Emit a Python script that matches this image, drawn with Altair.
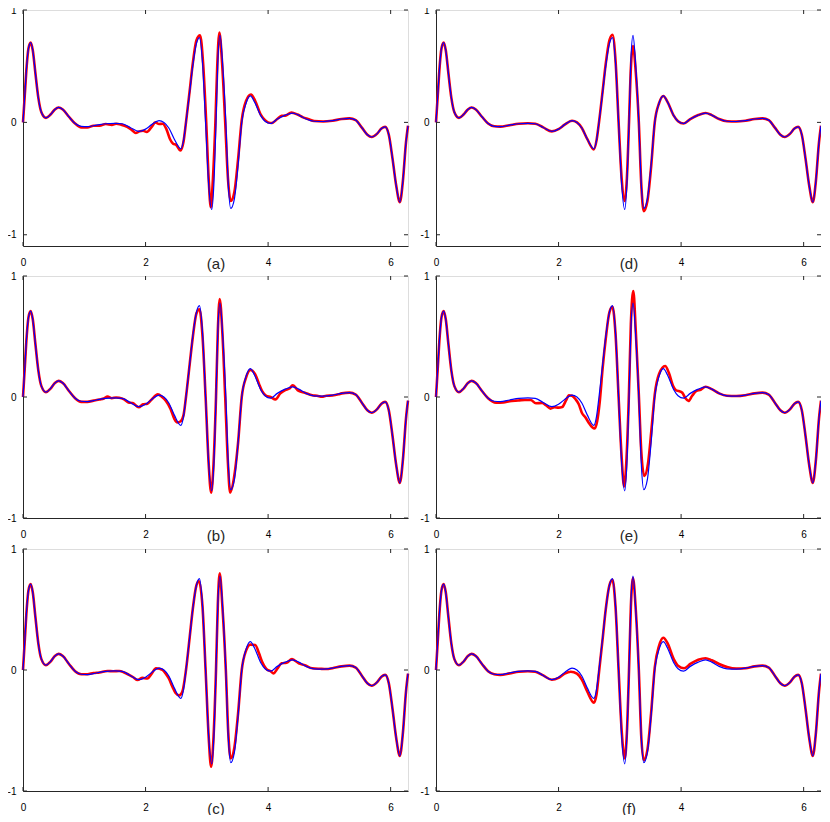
import altair as alt
import pandas as pd

# ---------------- data ----------------
X_TICKS = [0, 2, 4, 6]
Y_TICKS = [-1, 0, 1]
LABELS = ["(a)", "(b)", "(c)", "(d)", "(e)", "(f)"]

HEAD_X = [0.00, 0.03, 0.06, 0.09, 0.125, 0.16, 0.20, 0.25, 0.30, 0.375, 0.45, 0.52, 0.58, 0.65, 0.75, 0.85]
HEAD_Y = [0.00, 0.25, 0.50, 0.66, 0.71, 0.64, 0.45, 0.22, 0.09, 0.04, 0.07, 0.115, 0.133, 0.115, 0.05, -0.01]

TAIL_X = [5.20, 5.33, 5.43, 5.53, 5.62, 5.69, 5.78, 5.85, 5.91, 5.97, 6.03, 6.09, 6.15, 6.20, 6.25, 6.283]
TAIL_Y = [0.03, 0.036, 0.02, -0.047, -0.11, -0.13, -0.10, -0.055, -0.04, -0.11, -0.32, -0.56, -0.71, -0.52, -0.18, -0.03]

BLUE_MID_X = [0.95, 1.05, 1.20, 1.35, 1.50, 1.62, 1.75, 1.89, 2.00, 2.10, 2.22, 2.30, 2.38, 2.47, 2.575,
              2.62, 2.66, 2.72, 2.77, 2.83, 2.88, 2.93, 2.98, 3.03, 3.08, 3.115, 3.15, 3.18, 3.215, 3.26,
              3.31, 3.35, 3.39, 3.45, 3.51, 3.57, 3.64, 3.71, 3.78, 3.88, 3.95, 4.04, 4.15, 4.28, 4.40,
              4.50, 4.62, 4.75, 4.90, 5.05]
BLUE_MID_Y = [-0.035, -0.038, -0.025, -0.012, -0.008, -0.012, -0.045, -0.08, -0.06, -0.02, 0.015, 0.0, -0.05, -0.15, -0.235,
              -0.16, 0.00, 0.27, 0.50, 0.70, 0.755, 0.53, 0.00, -0.55, -0.775, -0.55, 0.00, 0.55, 0.775, 0.50,
              0.00, -0.55, -0.765, -0.68, -0.38, 0.00, 0.17, 0.235, 0.18, 0.06, 0.01, -0.01, 0.03, 0.065, 0.083,
              0.065, 0.03, 0.01, 0.008, 0.015]

RED_A_MID_X = [0.95, 1.05, 1.15, 1.25, 1.35, 1.45, 1.52, 1.60, 1.70, 1.78, 1.84, 1.90, 1.96, 2.02, 2.10,
               2.16, 2.22, 2.28, 2.34, 2.40, 2.45, 2.50, 2.57, 2.62, 2.66, 2.72, 2.77, 2.83, 2.89, 2.94,
               2.99, 3.03, 3.065, 3.10, 3.14, 3.17, 3.205, 3.25, 3.30, 3.345, 3.39, 3.45, 3.51, 3.57, 3.64,
               3.72, 3.79, 3.88, 3.95, 4.00, 4.06, 4.15, 4.22, 4.28, 4.38, 4.48, 4.57, 4.65, 4.75, 4.90, 5.05]
RED_A_MID_Y = [-0.045, -0.045, -0.03, -0.03, -0.015, -0.022, -0.012, -0.02, -0.04, -0.07, -0.095, -0.08, -0.075, -0.085, -0.04,
               0.0, -0.015, -0.012, -0.06, -0.15, -0.19, -0.20, -0.25, -0.17, 0.00, 0.28, 0.52, 0.73, 0.775, 0.52,
               0.00, -0.50, -0.755, -0.50, 0.00, 0.50, 0.80, 0.52, 0.00, -0.50, -0.70, -0.62, -0.33, 0.02, 0.19,
               0.248, 0.19, 0.07, 0.02, 0.00, -0.005, 0.03, 0.058, 0.06, 0.087, 0.07, 0.045, 0.03, 0.012, 0.008, 0.015]

RED_B_MID_X = [0.95, 1.05, 1.15, 1.25, 1.32, 1.38, 1.45, 1.52, 1.57, 1.65, 1.72, 1.79, 1.89, 1.96, 2.03,
               2.10, 2.20, 2.27, 2.33, 2.41, 2.47, 2.52, 2.575, 2.62, 2.66, 2.72, 2.77, 2.83, 2.88, 2.93,
               2.98, 3.03, 3.07, 3.11, 3.15, 3.18, 3.21, 3.255, 3.30, 3.345, 3.38, 3.44, 3.51, 3.57, 3.64,
               3.71, 3.79, 3.85, 3.90, 3.97, 4.04, 4.12, 4.20, 4.28, 4.35, 4.40, 4.50, 4.60, 4.72, 4.80,
               4.88, 4.95, 5.05, 5.15]
RED_B_MID_Y = [-0.04, -0.04, -0.03, -0.02, -0.012, 0.003, -0.01, -0.004, -0.006, -0.02, -0.045, -0.05, -0.085, -0.06, -0.055,
               -0.02, 0.022, 0.0, -0.03, -0.10, -0.18, -0.21, -0.20, -0.15, 0.00, 0.27, 0.49, 0.69, 0.725, 0.50,
               0.00, -0.55, -0.79, -0.55, 0.00, 0.55, 0.81, 0.52, 0.00, -0.55, -0.79, -0.68, -0.38, 0.00, 0.16,
               0.223, 0.187, 0.11, 0.05, 0.01, 0.0, -0.02, 0.03, 0.058, 0.07, 0.096, 0.05, 0.035, 0.014, 0.01,
               0.002, 0.01, 0.012, 0.022]

RED_C_MID_X = [0.95, 1.05, 1.15, 1.25, 1.38, 1.47, 1.57, 1.65, 1.73, 1.80, 1.87, 1.95, 2.03, 2.10, 2.17,
               2.23, 2.28, 2.33, 2.38, 2.44, 2.49, 2.55, 2.60, 2.66, 2.72, 2.77, 2.83, 2.87, 2.93, 2.98,
               3.03, 3.07, 3.11, 3.15, 3.18, 3.21, 3.255, 3.31, 3.35, 3.39, 3.45, 3.51, 3.57, 3.64, 3.71,
               3.79, 3.85, 3.90, 3.97, 4.04, 4.09, 4.15, 4.22, 4.30, 4.39, 4.50, 4.60, 4.72, 4.85, 4.95, 5.05]
RED_C_MID_Y = [-0.035, -0.035, -0.025, -0.02, -0.008, -0.01, -0.008, -0.02, -0.04, -0.06, -0.083, -0.065, -0.07, -0.03, 0.014,
               0.01, 0.0, -0.03, -0.07, -0.14, -0.19, -0.21, -0.18, 0.00, 0.27, 0.50, 0.70, 0.735, 0.52, 0.00,
               -0.55, -0.80, -0.55, 0.00, 0.55, 0.80, 0.52, 0.00, -0.52, -0.73, -0.64, -0.36, 0.00, 0.16, 0.21,
               0.207, 0.14, 0.07, 0.01, -0.01, -0.028, 0.01, 0.055, 0.06, 0.09, 0.055, 0.04, 0.014, 0.01, 0.008, 0.015]

RED_D_MID_Y = [-0.035, -0.038, -0.025, -0.012, -0.008, -0.012, -0.045, -0.08, -0.06, -0.02, 0.015, 0.0, -0.05, -0.15, -0.24,
               -0.16, 0.00, 0.28, 0.52, 0.73, 0.78, 0.55, 0.00, -0.50, -0.70, -0.50, 0.00, 0.48, 0.68, 0.45,
               0.00, -0.55, -0.79, -0.70, -0.40, 0.00, 0.17, 0.235, 0.18, 0.06, 0.01, -0.01, 0.03, 0.065, 0.083,
               0.065, 0.03, 0.01, 0.008, 0.015]

RED_E_MID_X = [0.98, 1.10, 1.20, 1.30, 1.36, 1.45, 1.545, 1.63, 1.73, 1.80, 1.87, 1.93, 2.00, 2.06, 2.12,
               2.17, 2.22, 2.28, 2.33, 2.38, 2.44, 2.49, 2.55, 2.59, 2.63, 2.67, 2.72, 2.77, 2.83, 2.88,
               2.93, 2.98, 3.03, 3.07, 3.11, 3.15, 3.18, 3.22, 3.26, 3.31, 3.35, 3.40, 3.46, 3.52, 3.57,
               3.64, 3.74, 3.80, 3.87, 3.92, 3.96, 4.02, 4.07, 4.12, 4.18, 4.25, 4.32, 4.40, 4.50, 4.62,
               4.75, 4.90, 5.05]
RED_E_MID_Y = [-0.047, -0.045, -0.035, -0.03, -0.028, -0.025, -0.025, -0.052, -0.05, -0.07, -0.096, -0.085, -0.088, -0.083, -0.03,
               0.014, 0.01, -0.02, -0.06, -0.13, -0.17, -0.21, -0.25, -0.26, -0.20, -0.05, 0.24, 0.48, 0.70, 0.745,
               0.52, 0.00, -0.50, -0.74, -0.50, 0.05, 0.60, 0.876, 0.55, 0.02, -0.45, -0.653, -0.55, -0.25, 0.02,
               0.19, 0.256, 0.20, 0.09, 0.055, 0.05, 0.035, -0.01, -0.033, 0.01, 0.05, 0.06, 0.085, 0.065, 0.03,
               0.01, 0.008, 0.015]

RED_F_MID_X = [0.95, 1.05, 1.20, 1.35, 1.50, 1.62, 1.75, 1.89, 2.00, 2.10, 2.20, 2.30, 2.38, 2.47, 2.575,
               2.62, 2.66, 2.72, 2.77, 2.83, 2.88, 2.93, 2.98, 3.03, 3.08, 3.115, 3.15, 3.18, 3.215, 3.26,
               3.31, 3.35, 3.39, 3.45, 3.51, 3.57, 3.64, 3.71, 3.78, 3.88, 3.95, 4.05, 4.15, 4.28, 4.40,
               4.50, 4.62, 4.75, 4.90, 5.05]
RED_F_MID_Y = [-0.035, -0.04, -0.028, -0.014, -0.01, -0.015, -0.045, -0.08, -0.065, -0.03, -0.014, -0.03, -0.08, -0.18, -0.27,
               -0.20, -0.02, 0.26, 0.50, 0.70, 0.745, 0.52, 0.00, -0.50, -0.73, -0.52, 0.00, 0.52, 0.76, 0.50,
               0.00, -0.55, -0.745, -0.66, -0.36, 0.02, 0.20, 0.267, 0.22, 0.09, 0.035, 0.014, 0.05, 0.085, 0.097,
               0.08, 0.05, 0.025, 0.012, 0.015]

# ---------------- chart ----------------
W = 385
HEIGHTS = [236, 242, 242]
FONT = "Liberation Sans"
TXT = "#262626"
TWO_PI = 6.2832


def series(mx, my):
    return pd.DataFrame({"x": HEAD_X + mx + TAIL_X, "y": HEAD_Y + my + TAIL_Y})


BLUE = series(BLUE_MID_X, BLUE_MID_Y)
REDS = [
    series(RED_A_MID_X, RED_A_MID_Y),
    series(RED_B_MID_X, RED_B_MID_Y),
    series(RED_C_MID_X, RED_C_MID_Y),
    series(BLUE_MID_X, RED_D_MID_Y),
    series(RED_E_MID_X, RED_E_MID_Y),
    series(RED_F_MID_X, RED_F_MID_Y),
]
YDOMS = [[-1.1, 1], [-1, 1], [-1, 1], [-1.1, 1], [-1, 1], [-1, 1]]


def panel(i):
    H = HEIGHTS[i % 3]
    xs = alt.Scale(domain=[0, TWO_PI], nice=False, zero=False)
    ys = alt.Scale(domain=YDOMS[i], nice=False, zero=False)
    xax = alt.Axis(values=X_TICKS, ticks=False, tickSize=0, grid=False, domain=True,
                   domainColor=TXT, labelPadding=11, labelFlush=False,
                   title=LABELS[i], titleY=22, titleBaseline="alphabetic",
                   titleFontSize=15, titleFontWeight="normal", titleFont=FONT, titleColor=TXT)
    yax = alt.Axis(values=Y_TICKS, ticks=False, tickSize=0, grid=False, domain=True,
                   domainColor=TXT, labelPadding=7, labelFlush=False,
                   labelExpr="'' + datum.value", title=None)
    X = alt.X("x:Q", scale=xs, axis=xax)
    Y = alt.Y("y:Q", scale=ys, axis=yax)

    red = alt.Chart(REDS[i]).mark_line(color="#ff0000", strokeWidth=2.6,
                                       interpolate="monotone").encode(x=X, y=Y)
    blue = alt.Chart(BLUE).mark_line(color="#0000ff", strokeWidth=1.2,
                                     interpolate="monotone").encode(x=X, y=Y)
    xt = pd.DataFrame({"x": X_TICKS})
    yt = pd.DataFrame({"y": Y_TICKS})
    tb = alt.Chart(xt).mark_rule(color=TXT, strokeWidth=1).encode(
        x=X, y=alt.value(H), y2=alt.value(H - 4))
    tt = alt.Chart(xt).mark_rule(color=TXT, strokeWidth=1).encode(
        x=X, y=alt.value(0), y2=alt.value(4))
    tl = alt.Chart(yt).mark_rule(color=TXT, strokeWidth=1).encode(
        y=Y, x=alt.value(0), x2=alt.value(4))
    tr = alt.Chart(yt).mark_rule(color=TXT, strokeWidth=1).encode(
        y=Y, x=alt.value(W), x2=alt.value(W - 4))
    return alt.layer(red, blue, tb, tt, tl, tr).properties(width=W, height=H)


rows = [alt.hconcat(panel(r), panel(r + 3), spacing=5) for r in range(3)]
chart = alt.vconcat(rows[0], alt.vconcat(rows[1], rows[2], spacing=-1), spacing=-2).properties(
    padding={"left": -2, "top": -4, "right": -6, "bottom": -2}
).configure_view(
    stroke="#8c8c8c", strokeWidth=1
).configure_axis(
    labelFont=FONT, labelFontSize=11, labelColor=TXT
).configure(background="white")

chart.save("out.html", embed_options={"renderer": "svg", "actions": False})
